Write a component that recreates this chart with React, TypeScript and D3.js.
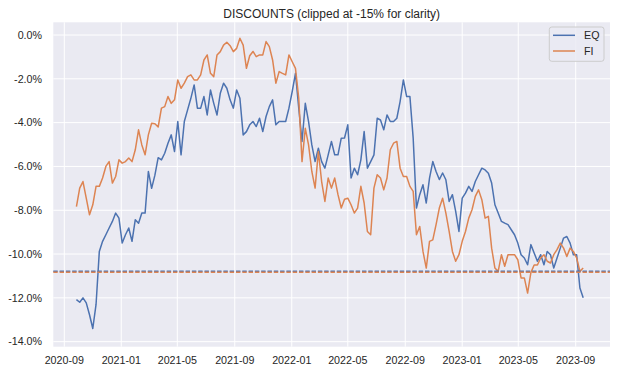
import React, { useEffect, useRef } from "react";
import * as d3 from "d3";

// weekly readings, first one on 2020-09-27
const startDate = new Date(2020, 8, 27);

const eqValues = [
	-12.08, -12.2, -12.0, -12.23, -12.77, -13.4, -12.3, -9.88, -9.42, -9.12,
	-8.81, -8.51, -8.13, -8.36, -9.5, -9.12, -8.81, -9.42, -8.43, -8.59,
	-8.13, -8.13, -6.23, -7.0, -6.4, -5.6, -5.7, -5.4, -4.94, -4.56,
	-5.32, -3.95, -5.47, -3.95, -3.42, -2.89, -2.28, -3.34, -3.34, -2.81,
	-3.65, -2.51, -3.12, -3.65, -2.66, -2.2, -2.43, -2.96, -3.34, -2.51,
	-2.89, -4.56, -4.41, -4.1, -3.95, -4.18, -3.8, -4.41, -3.72, -3.27,
	-2.96, -4.1, -3.95, -3.95, -3.95, -3.34, -2.58, -1.75, -3.34, -4.86,
	-3.12, -3.95, -5.02, -5.78, -5.17, -5.78, -6.08, -5.47, -4.86, -5.47,
	-5.47, -4.71, -4.7, -4.1, -6.53, -6.08, -6.38, -5.7, -4.41, -6.08,
	-5.78, -5.47, -3.8, -3.88, -4.33, -3.65, -3.95, -3.95, -3.8, -3.04,
	-2.05, -2.81, -2.81, -4.71, -7.9, -7.29, -6.84, -7.67, -6.53, -5.78,
	-6.23, -6.6, -6.3, -6.61, -7.6, -7.29, -8.05, -8.97, -7.45, -7.22,
	-6.91, -7.14, -6.69, -6.38, -6.08, -6.16, -6.31, -6.76, -7.75, -8.13,
	-8.51, -8.59, -8.66, -8.89, -9.12, -9.5, -10.03, -10.18, -10.49, -9.57,
	-9.95, -10.33, -10.03, -10.49, -9.88, -10.03, -10.64, -10.18, -9.73, -9.27,
	-9.2, -9.5, -10.03, -10.03, -11.55, -12.0,
];

const fiValues = [
	-7.83, -6.99, -6.69, -7.45, -8.21, -7.75, -6.91, -6.91, -6.53, -6.0,
	-5.78, -6.76, -6.46, -5.7, -5.85, -5.78, -5.62, -5.78, -5.24, -4.33,
	-5.02, -5.47, -4.56, -4.03, -4.05, -4.2, -3.34, -3.27, -2.81, -3.12,
	-2.96, -2.05, -2.43, -2.2, -1.9, -1.82, -2.05, -2.05, -1.82, -1.14,
	-0.91, -1.75, -1.9, -0.91, -0.76, -0.46, -0.33, -0.49, -0.76, -0.61,
	-0.15, -0.46, -1.52, -0.95, -0.75, -0.99, -0.91, -0.91, -0.3, -0.53,
	-1.14, -2.2, -1.67, -1.75, -1.82, -0.91, -1.22, -1.52, -2.89, -5.78,
	-4.26, -5.02, -6.23, -6.99, -5.32, -6.69, -7.6, -6.53, -6.99, -6.53,
	-7.29, -7.9, -7.5, -7.45, -7.75, -8.13, -7.9, -6.91, -7.67, -8.97,
	-9.12, -6.99, -6.38, -6.53, -7.07, -6.53, -5.24, -4.94, -4.86, -6.08,
	-6.46, -6.46, -6.91, -7.14, -9.12, -8.74, -9.88, -10.64, -9.42, -9.35,
	-8.66, -7.9, -7.45, -8.13, -8.97, -9.88, -10.33, -10.03, -9.42, -8.97,
	-8.36, -7.98, -7.37, -7.07, -7.52, -8.36, -8.28, -9.73, -10.64, -10.79,
	-10.03, -10.56, -10.03, -10.03, -10.03, -10.26, -11.09, -11.09, -11.78, -10.85,
	-10.5, -10.5, -10.18, -10.03, -10.33, -10.41, -10.03, -9.8, -9.5, -9.73,
	-10.11, -9.73, -9.88, -10.18, -10.79, -10.64,
];

// dashed reference levels (one per series)
const eqLevel = -10.78;
const fiLevel = -10.83;

const seriesNames = ["EQ", "FI"];
const seriesColors = ["#4C72B0", "#DD8452"];
const yTicks = [0, -2, -4, -6, -8, -10, -12, -14];

const W = 623;
const H = 374;
const FONT = "'Liberation Sans', Arial, sans-serif";

const App: React.FC = () => {
	const svgRef = useRef<SVGSVGElement>(null);

	useEffect(() => {
		if (!svgRef.current) return;
		const svg = d3.select(svgRef.current);
		svg.selectAll("*").remove();

		const plot = { left: 53.3, right: 610, top: 22.3, bottom: 346.7 };

		const x = d3
			.scaleTime()
			.domain([new Date(2020, 7, 8, 11), new Date(2023, 10, 13, 10)])
			.range([plot.left, plot.right]);

		const y = d3
			.scaleLinear()
			.domain([-14.23, 0.58])
			.range([plot.bottom, plot.top]);

		const dates = eqValues.map((_, i) => d3.timeDay.offset(startDate, 7 * i));

		svg
			.append("rect")
			.attr("x", plot.left)
			.attr("y", plot.top)
			.attr("width", plot.right - plot.left)
			.attr("height", plot.bottom - plot.top)
			.attr("fill", "#EAEAF2");

		const xTicks = x.ticks(d3.timeMonth.every(4)!);

		// grid
		svg
			.append("g")
			.selectAll("line")
			.data(xTicks)
			.join("line")
			.attr("x1", (d) => x(d))
			.attr("x2", (d) => x(d))
			.attr("y1", plot.top)
			.attr("y2", plot.bottom)
			.attr("stroke", "#fff")
			.attr("stroke-width", 1);

		svg
			.append("g")
			.selectAll("line")
			.data(yTicks)
			.join("line")
			.attr("x1", plot.left)
			.attr("x2", plot.right)
			.attr("y1", (d) => y(d))
			.attr("y2", (d) => y(d))
			.attr("stroke", "#fff")
			.attr("stroke-width", 1);

		// tick labels
		const fmt = d3.timeFormat("%Y-%m");
		svg
			.append("g")
			.selectAll("text")
			.data(xTicks)
			.join("text")
			.attr("x", (d) => x(d))
			.attr("y", 364)
			.attr("text-anchor", "middle")
			.attr("font-family", FONT)
			.attr("font-size", 10.7)
			.attr("fill", "#262626")
			.text((d) => fmt(d));

		svg
			.append("g")
			.selectAll("text")
			.data(yTicks)
			.join("text")
			.attr("x", 42)
			.attr("y", (d) => y(d) + 3.8)
			.attr("text-anchor", "end")
			.attr("font-family", FONT)
			.attr("font-size", 10.7)
			.attr("fill", "#262626")
			.text((d) => (d === 0 ? "0.0%" : d.toFixed(1) + "%"));

		// series
		svg
			.append("clipPath")
			.attr("id", "plot-clip")
			.append("rect")
			.attr("x", plot.left)
			.attr("y", plot.top)
			.attr("width", plot.right - plot.left)
			.attr("height", plot.bottom - plot.top);

		const line = d3
			.line<number>()
			.x((_, i) => x(dates[i]))
			.y((d) => y(d));

		[eqValues, fiValues].forEach((vals, k) => {
			svg
				.append("path")
				.datum(vals)
				.attr("d", line)
				.attr("fill", "none")
				.attr("stroke", seriesColors[k])
				.attr("stroke-width", 1.5)
				.attr("stroke-linejoin", "round")
				.attr("clip-path", "url(#plot-clip)");
		});

		// dashed levels
		[eqLevel, fiLevel].forEach((lv, k) => {
			svg
				.append("line")
				.attr("x1", plot.left)
				.attr("x2", plot.right)
				.attr("y1", y(lv))
				.attr("y2", y(lv))
				.attr("stroke", seriesColors[k])
				.attr("stroke-width", 1.5)
				.attr("stroke-dasharray", "4.4,1.9");
		});

		// title
		svg
			.append("text")
			.attr("x", (plot.left + plot.right) / 2)
			.attr("y", 18)
			.attr("text-anchor", "middle")
			.attr("font-family", FONT)
			.attr("font-size", 12)
			.attr("fill", "#262626")
			.text("DISCOUNTS (clipped at -15% for clarity)");

		// legend
		const lg = svg.append("g");
		lg.append("rect")
			.attr("x", 549.3)
			.attr("y", 27)
			.attr("width", 54.7)
			.attr("height", 34.3)
			.attr("rx", 2.5)
			.attr("fill", "#EAEAF2")
			.attr("fill-opacity", 0.8)
			.attr("stroke", "#cccccc")
			.attr("stroke-width", 1);
		seriesNames.forEach((name, k) => {
			const ly = 35.3 + k * 15.7;
			lg.append("line")
				.attr("x1", 553)
				.attr("x2", 575)
				.attr("y1", ly)
				.attr("y2", ly)
				.attr("stroke", seriesColors[k])
				.attr("stroke-width", 1.5);
			lg.append("text")
				.attr("x", 584)
				.attr("y", ly + 3.8)
				.attr("font-family", FONT)
				.attr("font-size", 10.7)
				.attr("fill", "#262626")
				.text(name);
		});
	}, []);

	return (
		<svg
			ref={svgRef}
			width={W}
			height={H}
			style={{ position: "absolute", left: 0, top: 0, background: "#fff" }}
		/>
	);
};

export default App;
